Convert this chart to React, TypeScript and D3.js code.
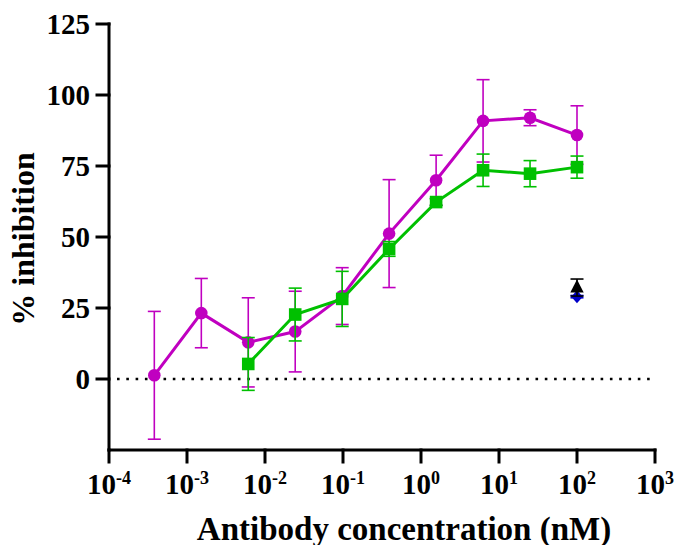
import React from "react";
import * as d3 from "d3";

const concMagenta = [0.000381, 0.001526, 0.0061, 0.0244, 0.0977, 0.39, 1.5625, 6.25, 25, 100];
const meanMagenta = [1.3, 23.2, 12.9, 16.7, 29.2, 51.2, 70.0, 90.9, 92.0, 85.9];
const sdMagenta = [22.5, 12.2, 15.7, 14.2, 10.0, 19.0, 8.8, 14.5, 2.8, 10.3];

const concGreen = [0.0061, 0.0244, 0.0977, 0.39, 1.5625, 6.25, 25, 100];
const meanGreen = [5.3, 22.7, 28.2, 45.8, 62.3, 73.5, 72.3, 74.6];
const sdGreen = [9.3, 9.3, 9.7, 2.6, 1.2, 5.7, 4.6, 3.9];

const concControl = [100];
const meanTriangle = [32.2];
const sdTriangle = [3.0];
const meanDiamond = [29.0];
const sdDiamond = [0.4];

const yTicks = [0, 25, 50, 75, 100, 125];
const xTickExps = [-4, -3, -2, -1, 0, 1, 2, 3];

const MAGENTA = "#C000C0";
const GREEN = "#00C000";
const BLUE = "#0000C8";
const FONT = "'Liberation Serif', 'Times New Roman', serif";

export default function App() {
  const x = d3.scaleLog().domain([1e-4, 1e3]).range([109, 655]);
  const y = d3.scaleLinear().domain([-25, 125]).range([450, 24]);

  const line = d3
    .line<[number, number]>()
    .x((d) => x(d[0]))
    .y((d) => y(d[1]));

  const magPts: [number, number][] = concMagenta.map((c, i) => [c, meanMagenta[i]]);
  const grnPts: [number, number][] = concGreen.map((c, i) => [c, meanGreen[i]]);

  const errBars = (conc: number[], mean: number[], sd: number[], color: string, key: string) =>
    conc.map((c, i) => {
      const cx = x(c);
      const yt = y(mean[i] + sd[i]);
      const yb = y(mean[i] - sd[i]);
      return (
        <g key={key + i} stroke={color} strokeWidth={1.6} fill="none">
          <line x1={cx} x2={cx} y1={yt} y2={yb} />
          <line x1={cx - 6.5} x2={cx + 6.5} y1={yt} y2={yt} />
          <line x1={cx - 6.5} x2={cx + 6.5} y1={yb} y2={yb} />
        </g>
      );
    });

  const shape = d3.line().curve(d3.curveLinearClosed);
  const tri = shape([[0, -8], [6.7, 5], [-6.7, 5]]);
  const dia = shape([[0, -6.5], [5.7, 0], [0, 6.5], [-5.7, 0]]);

  return (
    <svg width={676} height={545} style={{ display: "block", position: "absolute", left: 0, top: 0 }}>
      <rect width={676} height={545} fill="#fff" />
      {/* zero line */}
      <line
        x1={117}
        x2={655}
        y1={y(0)}
        y2={y(0)}
        stroke="#000"
        strokeWidth={2.6}
        strokeDasharray="2.6 6.7"
      />
      {/* magenta series */}
      {errBars(concMagenta, meanMagenta, sdMagenta, MAGENTA, "m")}
      <path d={line(magPts) || ""} fill="none" stroke={MAGENTA} strokeWidth={3} />
      {magPts.map((d, i) => (
        <circle key={"mc" + i} cx={x(d[0])} cy={y(d[1])} r={6.3} fill={MAGENTA} />
      ))}
      {/* green series */}
      {errBars(concGreen, meanGreen, sdGreen, GREEN, "g")}
      <path d={line(grnPts) || ""} fill="none" stroke={GREEN} strokeWidth={3} />
      {grnPts.map((d, i) => (
        <rect key={"gs" + i} x={x(d[0]) - 6.3} y={y(d[1]) - 6.3} width={12.6} height={12.6} fill={GREEN} />
      ))}
      {/* controls */}
      {errBars(concControl, meanDiamond, sdDiamond, BLUE, "b")}
      {concControl.map((c, i) => (
        <path key={"bd" + i} d={dia || ""} transform={`translate(${x(c)},${y(meanDiamond[i])})`} fill={BLUE} />
      ))}
      {errBars(concControl, meanTriangle, sdTriangle, "#000", "t")}
      {concControl.map((c, i) => (
        <path key={"bt" + i} d={tri || ""} transform={`translate(${x(c)},${y(meanTriangle[i])})`} fill="#000" />
      ))}
      {/* axes */}
      <g stroke="#000" strokeWidth={3} fill="none" strokeLinecap="square">
        <line x1={109} x2={109} y1={y(125)} y2={450} />
        <line x1={109} x2={655} y1={450} y2={450} />
        {yTicks.map((t) => (
          <line key={"yt" + t} x1={97} x2={109} y1={y(t)} y2={y(t)} />
        ))}
        {xTickExps.map((e) => (
          <line key={"xt" + e} x1={x(Math.pow(10, e))} x2={x(Math.pow(10, e))} y1={450} y2={462} />
        ))}
      </g>
      <g fontFamily={FONT} fontWeight="bold" fill="#000">
        {yTicks.map((t) => (
          <text key={"yl" + t} x={90} y={y(t) + 10} fontSize={29} textAnchor="end">
            {t}
          </text>
        ))}
        {xTickExps.map((e) => (
          <text key={"xl" + e} x={x(Math.pow(10, e))} y={494} fontSize={29} textAnchor="middle">
            10
            <tspan fontSize={18} dy={-10}>
              {e < 0 ? "-" + Math.abs(e) : String(e)}
            </tspan>
          </text>
        ))}
        <text x={404} y={540} fontSize={33} textAnchor="middle">
          Antibody concentration (nM)
        </text>
        <text transform="translate(34,239) rotate(-90)" fontSize={32} textAnchor="middle">
          % inhibition
        </text>
      </g>
    </svg>
  );
}
